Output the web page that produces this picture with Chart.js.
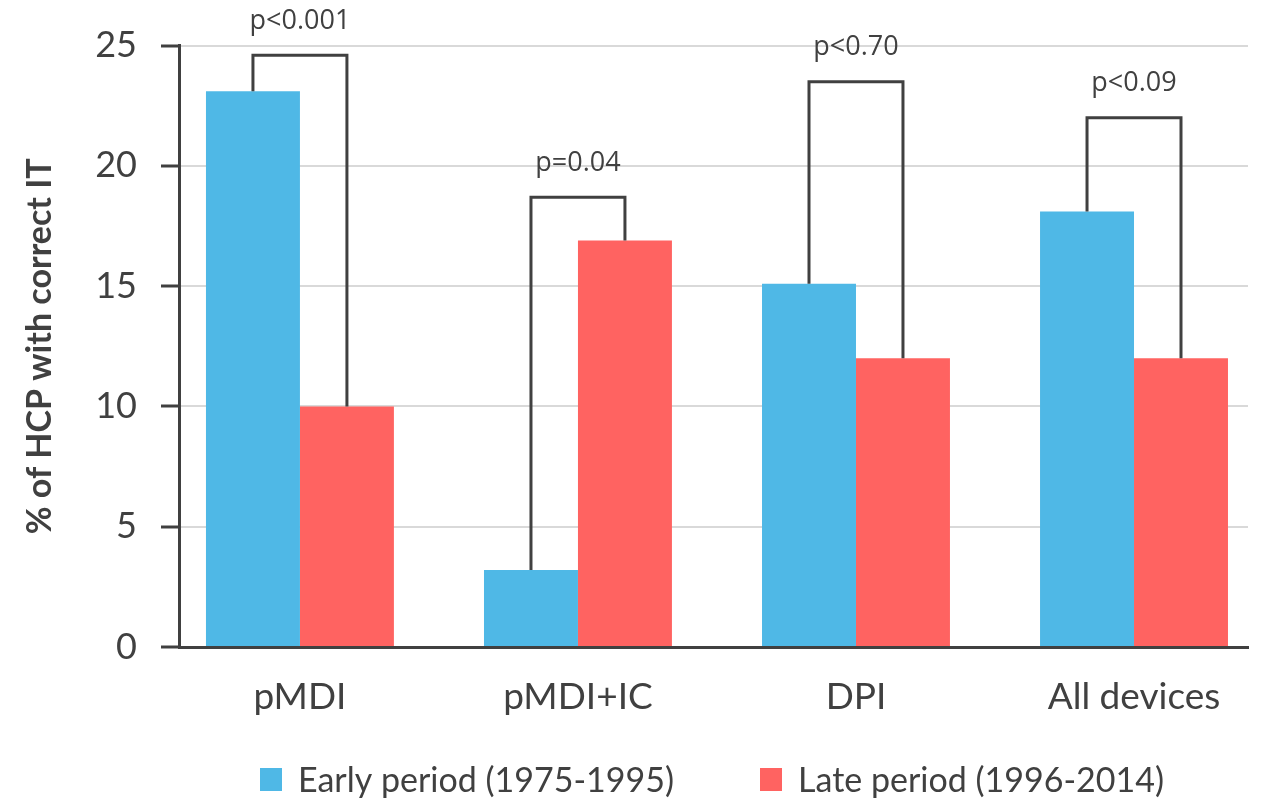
<!DOCTYPE html>
<html>
<head>
<meta charset="utf-8">
<script src="https://cdn.jsdelivr.net/npm/chart.js@4/dist/chart.umd.min.js"></script>
<style>
  html, body { margin: 0; padding: 0; background: #fff; overflow: hidden; }
  #wrap { width: 1261px; height: 801px; }
</style>
</head>
<body>
<div id="wrap"><canvas id="itChart"></canvas></div>
<script>
// values
const categories = ['pMDI', 'pMDI+IC', 'DPI', 'All devices'];
const earlyPeriod = [23.1, 3.2, 15.1, 18.1];
const latePeriod = [10.0, 16.9, 12.0, 12.0];
const pLabels = ['p<0.001', 'p=0.04', 'p<0.70', 'p<0.09'];
const bracketTops = [24.6, 18.7, 23.5, 22.0];
const yTicks = [0, 5, 10, 15, 20, 25];

const textColor = '#404040';
const lineColor = '#404040';

// significance brackets between the two bars of each group
const bracketPlugin = {
    id: 'brackets',
    afterDatasetsDraw(chart) {
        const c = chart.ctx;
        const y = chart.scales.y;
        const m0 = chart.getDatasetMeta(0).data;
        const m1 = chart.getDatasetMeta(1).data;
        c.save();
        c.strokeStyle = lineColor;
        c.lineWidth = 3;
        c.lineJoin = 'miter';
        categories.forEach(function(cat, i) {
            const x0 = m0[i].x, x1 = m1[i].x;
            const top = y.getPixelForValue(bracketTops[i]);
            c.beginPath();
            c.moveTo(x0, y.getPixelForValue(earlyPeriod[i]));
            c.lineTo(x0, top);
            c.lineTo(x1, top);
            c.lineTo(x1, y.getPixelForValue(latePeriod[i]));
            c.stroke();
            c.fillStyle = textColor;
            c.font = '27px "Open Sans"';
            c.textAlign = 'center';
            c.textBaseline = 'middle';
            c.fillText(pLabels[i], (x0 + x1) / 2, top - 34);
        });
        c.restore();
    }
};

// legend drawn under the axis labels
const legendPlugin = {
    id: 'bottomLegend',
    afterDraw(chart) {
        const c = chart.ctx;
        const ds = chart.data.datasets;
        const starts = [260, 760];
        c.save();
        c.font = '34px Lato';
        c.textBaseline = 'middle';
        c.textAlign = 'left';
        ds.forEach(function(d, i) {
            c.fillStyle = d.backgroundColor;
            c.fillRect(starts[i], 768, 22, 23);
            c.fillStyle = textColor;
            c.fillText(d.label, starts[i] + 38, 781);
        });
        c.restore();
    }
};

new Chart(document.getElementById('itChart'), {
    type: 'bar',
    data: {
        datasets: [{
            label: 'Early period (1975-1995)',
            data: earlyPeriod.map((v, i) => ({ x: i, y: v })),
            backgroundColor: '#4FB8E6'
        }, {
            label: 'Late period (1996-2014)',
            data: latePeriod.map((v, i) => ({ x: i, y: v })),
            backgroundColor: '#FF6361'
        }]
    },
    options: {
        responsive: true,
        maintainAspectRatio: false,
        animation: false,
        categoryPercentage: 0.676,
        barPercentage: 1,
        layout: { padding: { top: 45, right: 13, left: 0, bottom: 0 } },
        plugins: {
            legend: { display: false },
            tooltip: { enabled: false }
        },
        scales: {
            x: {
                type: 'linear',
                offset: false,
                min: -0.435,
                max: 3.41,
                afterFit: s => { s.height = 154; },
                afterBuildTicks: s => { s.ticks = categories.map((c, i) => ({ value: i })); },
                grid: { display: false, drawTicks: false, offset: false },
                border: { display: true, color: lineColor, width: 3 },
                ticks: {
                    padding: 28,
                    color: textColor,
                    font: { family: 'Lato', size: 37 },
                    callback: v => categories[v]
                }
            },
            y: {
                min: 0,
                max: 25,
                afterFit: s => { s.width = 179; },
                afterBuildTicks: s => { s.ticks = yTicks.map(v => ({ value: v })); },
                grid: {
                    color: '#D9D9D9',
                    lineWidth: 2,
                    tickLength: 18,
                    tickColor: lineColor,
                    tickWidth: 3
                },
                border: { display: true, color: lineColor, width: 3 },
                ticks: {
                    padding: 24,
                    color: textColor,
                    font: { family: 'Lato', size: 36 }
                },
                title: {
                    display: true,
                    text: '% of HCP with correct IT',
                    color: textColor,
                    font: { family: 'Lato', size: 34, weight: 'bold' },
                    padding: { top: 20, bottom: 0 }
                }
            }
        }
    },
    plugins: [bracketPlugin, legendPlugin]
});
</script>
</body>
</html>
